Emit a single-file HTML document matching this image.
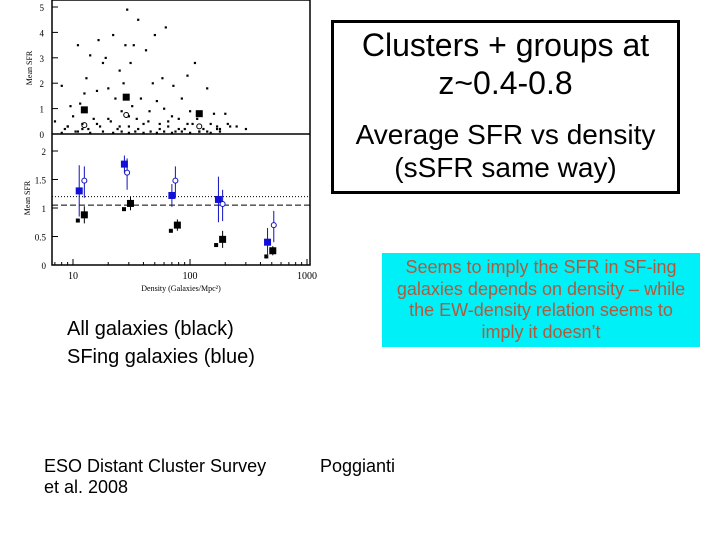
<!DOCTYPE html>
<html><head><meta charset="utf-8"><style>
body{margin:0;width:720px;height:540px;background:#fff;position:relative;overflow:hidden;font-family:"Liberation Sans",sans-serif}
.t{position:absolute;white-space:nowrap;color:#000}
</style></head><body>
<svg id="chart" width="720" height="540" style="position:absolute;left:0;top:0" font-family="Liberation Serif, serif"></svg>
<div style="position:absolute;left:331px;top:20px;width:343px;height:168px;border:3px solid #000;text-align:center;font-size:32px;line-height:38px;white-space:nowrap">
<div style="margin-top:3px">Clusters + groups at<br>z~0.4-0.8</div>
<div style="margin-top:16px;font-size:28px;line-height:33px">Average SFR vs density<br>(sSFR same way)</div>
</div>
<div style="position:absolute;left:382px;top:253px;width:318px;height:94px;background:#00f0f8;color:#b05a3c;text-align:center;font-size:18px;line-height:21.5px;padding-top:4px;box-sizing:border-box;white-space:nowrap">Seems to imply the SFR in SF-ing<br>galaxies depends on density – while<br>the EW-density relation seems to<br>imply it doesn’t</div>
<div class="t" style="left:67px;top:318px;font-size:20px">All galaxies (black)</div>
<div class="t" style="left:67px;top:346px;font-size:20px">SFing galaxies (blue)</div>
<div class="t" style="left:44px;top:456px;font-size:18px;line-height:21px">ESO Distant Cluster Survey<br>et al. 2008</div>
<div class="t" style="left:320px;top:456px;font-size:18px">Poggianti</div>
<script>
const xTicks=[10,100,1000];
const topYTicks=[0,1,2,3,4,5];
const botYTicks=[0,0.5,1,1.5,2];
const scatterX=[7,8,8.5,9,9.5,10,10.5,11,11.5,12,12.5,13,13.5,14,15,16,16.5,17,18,19,20,21,22,23,24,25,26,27,28,29,30,31,32,33,35,36,38,40,42,45,48,50,52,55,58,60,62,65,70,72,75,80,85,90,95,100,105,110,120,130,140,150,160,170,180,200,220,250,300,8,11,14,18,22,26,30,34,40,46,52,60,70,85,100,120,150,180,9,12,16,20,25,30,36,44,55,65,80,95,115,140,170,210];
const scatterY=[0.5,1.9,0.2,0.3,1.1,0.7,0.1,3.5,1.2,0.4,1.6,2.2,0.2,3.1,0.6,1.7,3.7,0.3,2.8,3.0,1.8,0.5,3.9,1.4,0.2,2.5,0.9,2.0,3.5,4.9,0.3,2.8,1.1,3.5,0.6,4.5,1.4,0.4,3.3,0.9,2.0,3.9,1.3,0.2,2.2,1.0,4.2,0.5,0.7,1.9,0.1,0.6,1.4,0.2,2.3,0.9,0.4,2.8,0.1,0.2,1.8,0.4,0.8,0.3,0.2,0.8,0.3,0.3,0.2,0.05,0.1,0.05,0.1,0.05,0.1,0.05,0.1,0.05,0.1,0.05,0.1,0.05,0.1,0.05,0.1,0.05,0.1,0.3,0.2,0.4,0.6,0.3,0.7,0.2,0.5,0.4,0.3,0.2,0.4,0.6,0.1,0.2,0.4];
const topMeanX=[12.5,28.5,120];
const topMeanY=[0.95,1.45,0.8];
const topOpenY=[0.35,0.75,0.3];
const blueX=[11.3,27.5,70,175,460];
const blueY=[1.3,1.77,1.22,1.15,0.4];
const blueErr=[0.45,0.15,0.2,0.4,0.25];
const blueOpenX=[12.5,29,75,190,520];
const blueOpenY=[1.48,1.62,1.48,1.07,0.7];
const blackX=[12.5,31,78,190,510];
const blackY=[0.88,1.08,0.7,0.45,0.25];
const blackErr=[0.15,0.12,0.1,0.15,0.08];
const dotLine=1.2, dashLine=1.05;
const svg=document.getElementById('chart');const NS='http://www.w3.org/2000/svg';
const X0=52,X1=310,BY0=265;
const xs=v=>73+(Math.log10(v)-1)*117;
const ty=v=>134-v*25.4;
const by=v=>265-v*57;
function mk(t,a,p){const e=document.createElementNS(NS,t);for(const k in a)e.setAttribute(k,a[k]);(p||svg).appendChild(e);return e;}
const frame=mk('rect',{x:X0,y:0,width:X1-X0,height:BY0,fill:'none',stroke:'#000','stroke-width':1.5});

const sep=mk('line',{x1:X0,x2:X1,y1:134,y2:134,stroke:'#000','stroke-width':1.5});

xTicks.forEach(v=>{mk('line',{x1:xs(v),x2:xs(v),y1:BY0,y2:BY0-6,stroke:'#000'});
 const t=mk('text',{x:xs(v),y:279,'font-size':10,'text-anchor':'middle'});t.textContent=v;
 });
for(let d=1;d<3;d++)for(let m=2;m<10;m++){const v=m*Math.pow(10,d);const x=xs(v);if(x>X0&&x<X1)mk('line',{x1:x,x2:x,y1:BY0,y2:BY0-3,stroke:'#000'});}
for(let m=7;m<10;m++)mk('line',{x1:xs(m),x2:xs(m),y1:BY0,y2:BY0-3,stroke:'#000'});
topYTicks.forEach(v=>{mk('line',{x1:X0,x2:X0+6,y1:ty(v),y2:ty(v),stroke:'#000'});
 const t=mk('text',{x:44,y:ty(v)+4,'font-size':9,'text-anchor':'end'});t.textContent=v;
 });
botYTicks.forEach(v=>{mk('line',{x1:X0,x2:X0+6,y1:by(v),y2:by(v),stroke:'#000'});
 const t=mk('text',{x:46,y:by(v)+4,'font-size':9,'text-anchor':'end'});t.textContent=v;
 });
let t=mk('text',{x:0,y:0,'font-size':8,'text-anchor':'middle',transform:'translate(32,68) rotate(-90)'});t.textContent='Mean SFR';

t=mk('text',{x:0,y:0,'font-size':8,'text-anchor':'middle',transform:'translate(30,198) rotate(-90)'});t.textContent='Mean SFR';

t=mk('text',{x:181,y:291,'font-size':8,'text-anchor':'middle'});t.textContent='Density (Galaxies/Mpc²)';

scatterX.forEach((v,i)=>{const c=mk('rect',{x:xs(v)-1,y:ty(scatterY[i])-1,width:2.2,height:2.2,fill:'#000'});
 });
topMeanX.forEach((v,i)=>{const r=mk('rect',{x:xs(v)-3.5,y:ty(topMeanY[i])-3.5,width:7,height:7,fill:'#000'});
 
 const o=mk('circle',{cx:xs(v),cy:ty(topOpenY[i]),r:2.5,fill:'none',stroke:'#000'});
 });
let l=mk('line',{x1:X0,x2:X1,y1:by(dotLine),y2:by(dotLine),stroke:'#000','stroke-dasharray':'1,2'});

l=mk('line',{x1:X0,x2:X1,y1:by(dashLine),y2:by(dashLine),stroke:'#000','stroke-dasharray':'6,3'});

blackX.forEach((v,i)=>{mk('line',{x1:xs(v),x2:xs(v),y1:by(blackY[i]-blackErr[i]),y2:by(blackY[i]+blackErr[i]),stroke:'#000'});
 const r=mk('rect',{x:xs(v)-3.5,y:by(blackY[i])-3.5,width:7,height:7,fill:'#000'});
 
 const s=mk('rect',{x:xs(v*0.88)-2,y:by(blackY[i]-0.1)-2,width:4,height:4,fill:'#000'});
 });
blueX.forEach((v,i)=>{mk('line',{x1:xs(v),x2:xs(v),y1:by(blueY[i]-blueErr[i]),y2:by(blueY[i]+blueErr[i]),stroke:'#1010c0'});
 const r=mk('rect',{x:xs(v)-3.5,y:by(blueY[i])-3.5,width:7,height:7,fill:'#1010d8'});
 
 const x2=xs(blueOpenX[i]);
 mk('line',{x1:x2,x2:x2,y1:by(blueOpenY[i]-0.3),y2:by(blueOpenY[i]+0.25),stroke:'#1010c0'});
 const o=mk('circle',{cx:x2,cy:by(blueOpenY[i]),r:2.5,fill:'#fff',stroke:'#1010c0'});
 });
</script>
</body></html>
